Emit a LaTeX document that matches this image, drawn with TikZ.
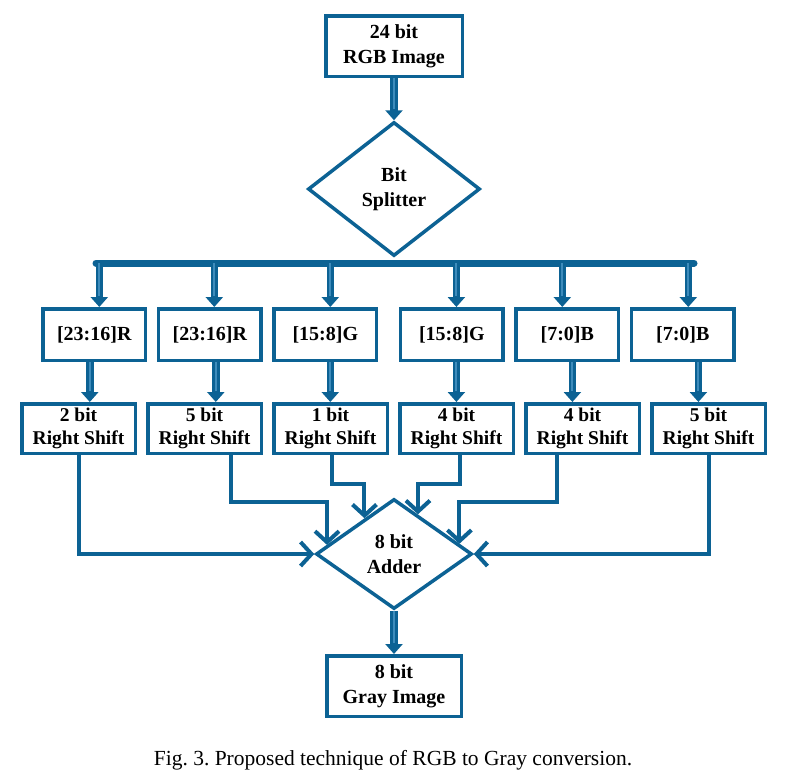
\documentclass[tikz,border=0pt]{standalone}
\usepackage{fontspec}
\setmainfont{Liberation Serif}
\usetikzlibrary{shapes.geometric,arrows.meta,calc}
\definecolor{lineblue}{RGB}{12,98,148}
\definecolor{midblue}{RGB}{62,140,188}
\newcommand\fatarrow[2]{\draw[fatout] (#1) -- (#2); \draw[fatin] (#1) -- (#2);}
\frenchspacing
\begin{document}
\begin{tikzpicture}[x=1pt,y=-1pt,
  box/.style={draw=lineblue,line width=3.5pt,fill=white,rectangle,align=center,inner sep=0pt,font=\fontsize{20}{25}\selectfont\bfseries},
  dia/.style={draw=lineblue,line width=3.5pt,fill=white,diamond,align=center,inner sep=0pt,font=\fontsize{20}{25}\selectfont\bfseries},
  fatout/.style={draw=lineblue,line width=7.5pt,-{Triangle[width=17pt,length=10pt]}},
  fatin/.style={draw=midblue,line width=2pt,shorten >=11pt},
  conn/.style={draw=lineblue,line width=4pt,line join=miter,-{Straight Barb[length=11pt,width=24pt]}},
  bus/.style={draw=lineblue,line width=7pt,line cap=round},
  row1/.style={box,minimum width=102.5pt,minimum height=51.5pt},
  row2/.style={box,minimum width=113.5pt,minimum height=49.5pt,font=\fontsize{19.5}{22.5}\selectfont\bfseries},
]
\useasboundingbox (0,0) rectangle (789,779);

% top
\node[box,minimum width=136.5pt,minimum height=60.5pt] (rgb) at (394,46) {24 bit\\RGB Image};
\node[dia,minimum width=172pt,minimum height=134pt] (split) at (394,189) {Bit\\Splitter};
\fatarrow{rgb.south}{split.north}

% bus
\coordinate (busL) at (96,263);
\coordinate (busR) at (694,263);
\draw[bus] (busL) -- (busR);

% row 1
\foreach \i/\x/\t in {1/94.3/{[23:16]R},2/209.8/{[23:16]R},3/325.3/{[15:8]G},4/451.8/{[15:8]G},5/567.3/{[7:0]B},6/682.8/{[7:0]B}}
  \node[row1] (a\i) at (\x,334.5) {\t};

% row 2
\foreach \i/\x/\t in {1/78.5/2,2/204.5/5,3/330.5/1,4/456.5/4,5/582.5/4,6/708.5/5}
  \node[row2] (b\i) at (\x,428.5) {\t\ bit\\Right Shift};

% bus drops
\foreach \i/\x in {1/99.3,2/214.3,3/330.3,4/456.4,5/562.3,6/688.3}{
  \coordinate (d\i) at (\x,263);
  \fatarrow{d\i}{d\i |- a\i.north}
}
% row1 -> row2
\foreach \i/\x in {1/89.8,2/215.8,3/330.3,4/456.4,5/572.4,6/698.4}{
  \coordinate (u\i) at (\x,0);
  \fatarrow{u\i |- a\i.south}{u\i |- b\i.north}
}

% adder
\node[dia,minimum width=156pt,minimum height=110pt] (add) at (394,554) {8 bit\\Adder};
\coordinate (t2) at ($(add.west)!0.16!(add.north)$);
\coordinate (t3) at ($(add.west)!0.63!(add.north)$);
\coordinate (t4) at ($(add.north)!0.30!(add.east)$);
\coordinate (t5) at ($(add.north)!0.82!(add.east)$);
\coordinate (k2) at (231,502);
\coordinate (k3) at (332,484);
\coordinate (k4) at (460,484);
\coordinate (k5) at (557,502);
\draw[conn] (b1.south) |- (add.west);
\draw[conn] (b6.south) |- (add.east);
\draw[conn] (k2 |- b2.south) -- (k2) -| (t2);
\draw[conn] (k3 |- b3.south) -- (k3) -| (t3);
\draw[conn] (k4 |- b4.south) -- (k4) -| (t4);
\draw[conn] (k5 |- b5.south) -- (k5) -| (t5);

% output
\node[box,minimum width=134.5pt,minimum height=60.5pt] (gray) at (394,686) {8 bit\\Gray Image};
\fatarrow{add.south}{gray.north}

% caption
\node[font=\fontsize{21.5}{26}\selectfont] (cap) at (393,760) {Fig. 3. Proposed technique of RGB to Gray conversion.};
\end{tikzpicture}
\end{document}
